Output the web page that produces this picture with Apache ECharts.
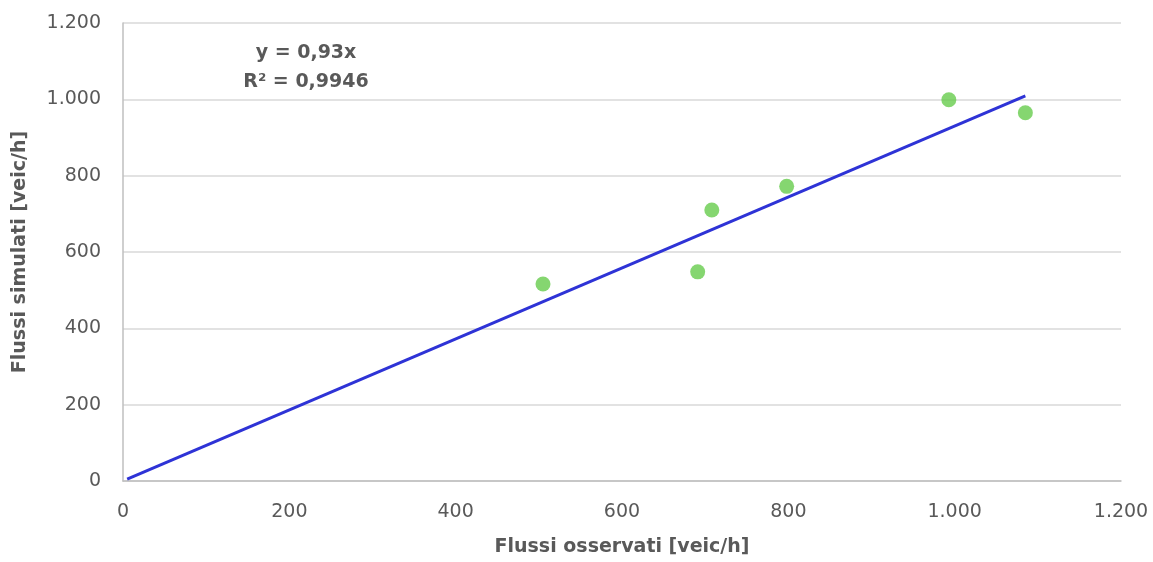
<!DOCTYPE html>
<html><head><meta charset="utf-8">
<script src="https://cdn.jsdelivr.net/npm/echarts@6/dist/echarts.min.js"></script>
<style>html,body{margin:0;padding:0;background:#fff}#c{width:1153px;height:562px}</style>
</head><body><div id="c"></div>
<script>
const observed = [505, 691, 708, 798, 993, 1085];
const simulated = [516, 548, 710, 772, 999, 965];
const slope = 0.93;
const trendX = [5, 1085];
const eqLines = ['y = 0,93x', 'R² = 0,9946'];

const fmt = v => String(v).replace(/\B(?=(\d{3})+(?!\d))/g, '.');
const pts = observed.map((x, i) => [x, simulated[i]]);
const trend = trendX.map(x => [x, slope * x]);
const font = '"DejaVu Sans", sans-serif';

const chart = echarts.init(document.getElementById('c'));
chart.setOption({
  animation: false,
  grid: {left: 123, right: 32, top: 23, bottom: 79},
  xAxis: {
    type: 'value', min: 0, max: 1200, interval: 200,
    name: 'Flussi osservati [veic/h]', nameLocation: 'middle', nameGap: 57,
    nameTextStyle: {fontFamily: font, fontWeight: 'bold', fontSize: 19, color: '#595959'},
    axisLine: {show: true, lineStyle: {color: '#bfbfbf', width: 1.5}},
    axisTick: {show: false},
    axisLabel: {fontFamily: font, fontSize: 19, color: '#595959', margin: 22, formatter: fmt},
    splitLine: {show: false}
  },
  yAxis: {
    type: 'value', min: 0, max: 1200, interval: 200,
    name: 'Flussi simulati [veic/h]', nameLocation: 'middle', nameGap: 93,
    nameTextStyle: {fontFamily: font, fontWeight: 'bold', fontSize: 19, color: '#595959'},
    axisLine: {show: true, lineStyle: {color: '#bfbfbf', width: 1.5}},
    axisTick: {show: false},
    axisLabel: {fontFamily: font, fontSize: 19, color: '#595959', margin: 22, formatter: fmt},
    splitLine: {show: true, lineStyle: {color: '#d9d9d9', width: 1.5}}
  },
  graphic: [{
    type: 'text', x: 306, y: 39,
    style: {text: eqLines.join('\n'), align: 'center', verticalAlign: 'top', lineHeight: 29,
      font: 'bold 19px ' + font, fill: '#595959'}
  }],
  series: [
    {type: 'line', data: trend, showSymbol: false, symbol: 'none',
      lineStyle: {color: '#2e33d6', width: 3}, z: 2},
    {type: 'scatter', data: pts, symbolSize: 15,
      itemStyle: {color: '#66cc4c'}, z: 3}
  ]
});
</script></body></html>
